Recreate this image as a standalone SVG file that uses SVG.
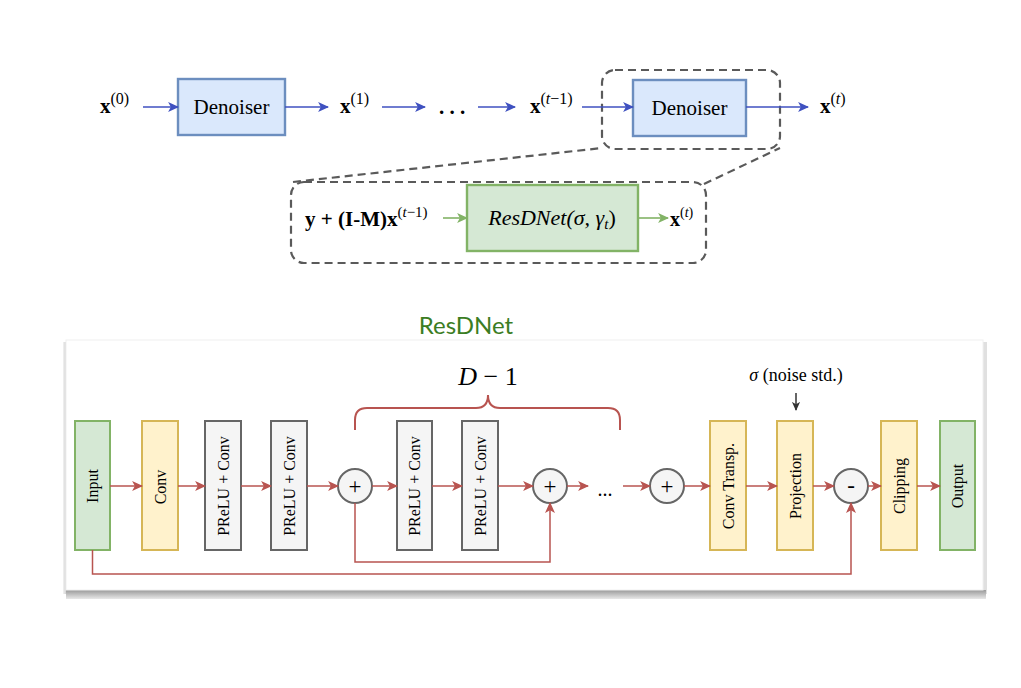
<svg xmlns="http://www.w3.org/2000/svg" width="1021" height="688" viewBox="0 0 1021 688">
<style>
.m{font-family:"Liberation Serif","Times New Roman",serif;fill:#000}
.b{font-weight:bold}
.lbl{font-family:"Liberation Serif","Times New Roman",serif;font-size:16px;fill:#000;text-anchor:middle;dominant-baseline:central}
.op{font-family:"Liberation Serif","Times New Roman",serif;font-size:23px;fill:#000;text-anchor:middle;dominant-baseline:central}
.blue{stroke:#3f51c0;stroke-width:1.6;fill:none}
.red{stroke:#b85450;stroke-width:1.5;fill:none}
.green{stroke:#82b366;stroke-width:1.6;fill:none}
.dash{stroke:#5a5a5a;stroke-width:2.2;fill:none;stroke-dasharray:8 5}
.den{fill:#dae8fc;stroke:#6c8ebf;stroke-width:2.4}
.gin{fill:#d5e8d4;stroke:#82b366;stroke-width:2}
.yel{fill:#fff2cc;stroke:#d6b656;stroke-width:2}
.gry{fill:#f5f5f5;stroke:#666;stroke-width:2}
.circ{fill:#f5f5f5;stroke:#666;stroke-width:2}
</style>
<defs>
<marker id="ab" viewBox="0 0 10 10" refX="9" refY="5" markerWidth="11" markerHeight="11" markerUnits="userSpaceOnUse" orient="auto"><path d="M0,0.5 L10,5 L0,9.5 L2.5,5 z" fill="#3f51c0"/></marker>
<marker id="ar" viewBox="0 0 10 10" refX="9" refY="5" markerWidth="11" markerHeight="11" markerUnits="userSpaceOnUse" orient="auto"><path d="M0,0.5 L10,5 L0,9.5 L2.5,5 z" fill="#b85450"/></marker>
<marker id="ag" viewBox="0 0 10 10" refX="9" refY="5" markerWidth="11" markerHeight="11" markerUnits="userSpaceOnUse" orient="auto"><path d="M0,0.5 L10,5 L0,9.5 L2.5,5 z" fill="#82b366"/></marker>
<marker id="ak" viewBox="0 0 10 10" refX="9" refY="5" markerWidth="9" markerHeight="9" markerUnits="userSpaceOnUse" orient="auto"><path d="M0,0.5 L10,5 L0,9.5 L2.5,5 z" fill="#333"/></marker>
<linearGradient id="shB" x1="0" y1="0" x2="0" y2="1"><stop offset="0" stop-color="#9a9a9a"/><stop offset="1" stop-color="#e8e8e8"/></linearGradient>
<linearGradient id="shL" x1="1" y1="0" x2="0" y2="0"><stop offset="0" stop-color="#c8c8c8"/><stop offset="1" stop-color="#f2f2f2"/></linearGradient>
</defs>

<!-- card -->
<g id="card">
<rect x="63" y="342" width="4" height="252" fill="url(#shL)"/>
<rect x="983" y="342" width="4" height="252" fill="#e0e0e0"/>
<rect x="66" y="590" width="920" height="9" fill="url(#shB)"/>
<rect x="66" y="340" width="917" height="250" fill="#fff" stroke="#f0f0f0" stroke-width="1"/>
</g>
<text id="title" x="466" y="334" text-anchor="middle" font-family="Lato,'Open Sans',sans-serif" font-size="24" fill="#3b7d23">ResDNet</text>

<!-- top row -->
<g id="x0"><text class="m" x="100" y="113" font-size="21"><tspan class="b">x</tspan><tspan font-size="16" dy="-9">(0)</tspan></text></g>
<g id="den1"><rect class="den" x="178" y="79" width="107" height="56"/><text class="m" x="231.5" y="114" font-size="21" text-anchor="middle">Denoiser</text></g>
<g id="x1"><text class="m" x="340" y="113" font-size="21"><tspan class="b">x</tspan><tspan font-size="16" dy="-9">(1)</tspan></text></g>
<g id="dots1"><text class="m b" x="452" y="114" font-size="21" text-anchor="middle">. . .</text></g>
<g id="xtm1"><text class="m" x="530" y="113" font-size="21"><tspan class="b">x</tspan><tspan font-size="16" dy="-9">(<tspan font-style="italic">t</tspan>−1)</tspan></text></g>
<g id="den2"><rect class="den" x="633" y="80" width="113" height="56"/><text class="m" x="689.5" y="115" font-size="21" text-anchor="middle">Denoiser</text></g>
<g id="xt"><text class="m" x="820" y="113" font-size="21"><tspan class="b">x</tspan><tspan font-size="16" dy="-9">(<tspan font-style="italic">t</tspan>)</tspan></text></g>

<!-- zoom boxes -->
<g id="zoomUpper"><rect class="dash" x="602" y="70" width="178" height="79" rx="13"/></g>
<g id="zoomLower"><rect class="dash" x="291" y="182" width="415" height="81" rx="13"/></g>

<!-- lower detail -->
<g id="inExpr"><text class="m b" x="305" y="226" font-size="21">y + (I-M)x<tspan font-size="15" font-weight="normal" dy="-9">(<tspan font-style="italic">t</tspan>−1)</tspan></text></g>
<g id="resd"><rect x="467" y="185" width="171" height="66" fill="#d5e8d4" stroke="#82b366" stroke-width="2.4"/><text class="m" x="552" y="225" font-size="22" text-anchor="middle" font-style="italic">ResDNet(σ, γ<tspan font-size="15" dy="4">t</tspan><tspan dy="-4" font-style="normal">)</tspan></text></g>
<g id="xt2"><text class="m" x="670" y="226" font-size="20"><tspan class="b">x</tspan><tspan font-size="14" dy="-9">(<tspan font-style="italic">t</tspan>)</tspan></text></g>

<!-- ResDNet blocks -->
<g id="input"><rect class="gin" x="75" y="421" width="35" height="129"/><text class="lbl" transform="translate(92.5,486) rotate(-90)">Input</text></g>
<g id="conv"><rect class="yel" x="142" y="421" width="36" height="129"/><text class="lbl" transform="translate(160,487) rotate(-90)">Conv</text></g>
<g id="pc1"><rect class="gry" x="205" y="421" width="36" height="129"/><text class="lbl" transform="translate(223,486) rotate(-90)">PReLU + Conv</text></g>
<g id="pc2"><rect class="gry" x="271" y="421" width="36" height="129"/><text class="lbl" transform="translate(289,486) rotate(-90)">PReLU + Conv</text></g>
<g id="sum1"><circle class="circ" cx="355" cy="486" r="17"/><text class="op" x="355" y="486">+</text></g>
<g id="pc3"><rect class="gry" x="397" y="421" width="35" height="129"/><text class="lbl" transform="translate(414.5,486) rotate(-90)">PReLU + Conv</text></g>
<g id="pc4"><rect class="gry" x="462" y="421" width="36" height="129"/><text class="lbl" transform="translate(480,486) rotate(-90)">PReLU + Conv</text></g>
<g id="sum2"><circle class="circ" cx="550" cy="486" r="17"/><text class="op" x="550" y="486">+</text></g>
<g id="dots2"><text class="m" x="605" y="496" font-size="20" text-anchor="middle">...</text></g>
<g id="sum3"><circle class="circ" cx="667" cy="486" r="17"/><text class="op" x="667" y="486">+</text></g>
<g id="convt"><rect class="yel" x="710" y="421" width="36" height="129"/><text class="lbl" transform="translate(728,486) rotate(-90)">Conv Transp.</text></g>
<g id="proj"><rect class="yel" x="777" y="421" width="36" height="129"/><text class="lbl" transform="translate(795,486) rotate(-90)">Projection</text></g>
<g id="minus"><circle class="circ" cx="851" cy="486" r="17"/><text class="op" x="851" y="485">-</text></g>
<g id="clip"><rect class="yel" x="881" y="421" width="36" height="129"/><text class="lbl" transform="translate(899,486) rotate(-90)">Clipping</text></g>
<g id="output"><rect class="gin" x="940" y="421" width="35" height="129"/><text class="lbl" transform="translate(957.5,486) rotate(-90)">Output</text></g>

<g id="brace">
<path d="M355,430 V420 Q355,408 367,408 H476 Q488,408 488,395 Q488,408 500,408 H608 Q620,408 620,420 V430" fill="none" stroke="#b85450" stroke-width="2"/>
<text class="m" x="488" y="385" font-size="26" text-anchor="middle"><tspan font-style="italic">D</tspan> − 1</text>
</g>
<g id="sigma"><text class="m" x="796" y="381" font-size="18" text-anchor="middle"><tspan font-style="italic">σ</tspan> (noise std.)</text></g>

<!-- connectors -->
<g id="connectors">
<path class="blue" d="M143,107 H178" marker-end="url(#ab)"/>
<path class="blue" d="M285,107 H328" marker-end="url(#ab)"/>
<path class="blue" d="M382,107 H425" marker-end="url(#ab)"/>
<path class="blue" d="M478,107 H515" marker-end="url(#ab)"/>
<path class="blue" d="M582,107 H633" marker-end="url(#ab)"/>
<path class="blue" d="M746,107 H808" marker-end="url(#ab)"/>
<path class="dash" d="M293,182 L602,148"/>
<path class="dash" d="M704,184 L780,148"/>
<path class="green" d="M443,218 H467" marker-end="url(#ag)"/>
<path class="green" d="M638,218 H668" marker-end="url(#ag)"/>
<path class="red" d="M110,486 H142" marker-end="url(#ar)"/>
<path class="red" d="M178,486 H205" marker-end="url(#ar)"/>
<path class="red" d="M241,486 H271" marker-end="url(#ar)"/>
<path class="red" d="M307,486 H338" marker-end="url(#ar)"/>
<path class="red" d="M372,486 H397" marker-end="url(#ar)"/>
<path class="red" d="M432,486 H462" marker-end="url(#ar)"/>
<path class="red" d="M498,486 H533" marker-end="url(#ar)"/>
<path class="red" d="M567,486 H588" marker-end="url(#ar)"/>
<path class="red" d="M623,486 H650" marker-end="url(#ar)"/>
<path class="red" d="M684,486 H710" marker-end="url(#ar)"/>
<path class="red" d="M746,486 H777" marker-end="url(#ar)"/>
<path class="red" d="M813,486 H834" marker-end="url(#ar)"/>
<path class="red" d="M868,486 H881" marker-end="url(#ar)"/>
<path class="red" d="M917,486 H940" marker-end="url(#ar)"/>
<path class="red" d="M355,503 V562 H550 V503" marker-end="url(#ar)"/>
<path class="red" d="M92.5,550 V574 H851 V503" marker-end="url(#ar)"/>
<path d="M796,393 V410" stroke="#333" stroke-width="1.5" fill="none" marker-end="url(#ak)"/>
</g>
</svg>
